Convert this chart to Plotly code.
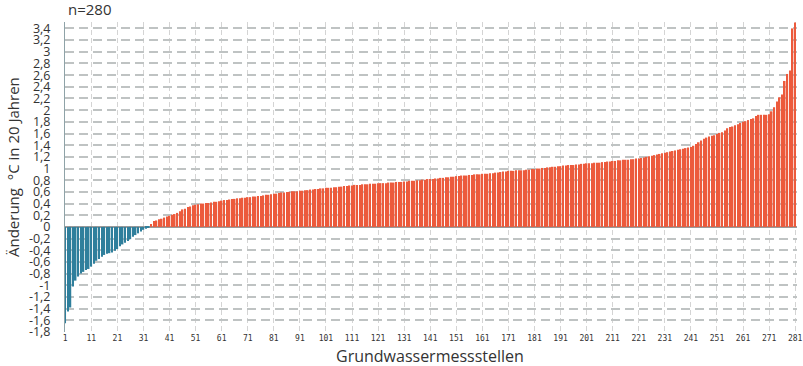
import plotly.graph_objects as go

# Sorted temperature change per groundwater monitoring station (°C in 20 years)
negative_values = [
    -1.65, -1.45, -1.38, -1.02, -0.92, -0.85, -0.80, -0.77, -0.74, -0.72,
    -0.68, -0.63, -0.58, -0.55, -0.51, -0.48, -0.46, -0.45, -0.44, -0.41,
    -0.38, -0.33, -0.30, -0.27, -0.24, -0.21, -0.17, -0.14, -0.11, -0.08,
    -0.05, -0.03, -0.01,
]
positive_values = [
    0.05, 0.10, 0.11, 0.13, 0.14, 0.16, 0.18, 0.19, 0.21, 0.22,
    0.24, 0.27, 0.30, 0.31, 0.34, 0.35, 0.37, 0.38, 0.39, 0.40,
    0.40, 0.41, 0.41, 0.42, 0.43, 0.43, 0.44, 0.45, 0.46, 0.46,
    0.47, 0.48, 0.48, 0.49, 0.49, 0.50, 0.50, 0.51, 0.51, 0.52,
    0.52, 0.53, 0.53, 0.54, 0.55, 0.55, 0.56, 0.57, 0.57, 0.58,
    0.59, 0.59, 0.60, 0.60, 0.61, 0.61, 0.61, 0.62, 0.62, 0.63,
    0.63, 0.64, 0.64, 0.65, 0.65, 0.66, 0.66, 0.67, 0.67, 0.67,
    0.68, 0.68, 0.69, 0.69, 0.70, 0.70, 0.71, 0.71, 0.72, 0.72,
    0.72, 0.73, 0.73, 0.73, 0.74, 0.74, 0.74, 0.75, 0.75, 0.75,
    0.75, 0.76, 0.76, 0.76, 0.77, 0.77, 0.77, 0.78, 0.78, 0.79,
    0.79, 0.79, 0.80, 0.80, 0.81, 0.81, 0.82, 0.82, 0.82, 0.83,
    0.83, 0.84, 0.84, 0.85, 0.85, 0.86, 0.86, 0.87, 0.87, 0.88,
    0.88, 0.88, 0.89, 0.89, 0.90, 0.90, 0.90, 0.91, 0.91, 0.91,
    0.92, 0.92, 0.93, 0.93, 0.94, 0.95, 0.95, 0.96, 0.96, 0.96,
    0.97, 0.97, 0.97, 0.97, 0.98, 0.98, 0.99, 0.99, 1.00, 1.00,
    1.01, 1.01, 1.02, 1.02, 1.03, 1.03, 1.04, 1.04, 1.05, 1.05,
    1.06, 1.06, 1.06, 1.07, 1.07, 1.08, 1.08, 1.09, 1.09, 1.09,
    1.10, 1.10, 1.10, 1.11, 1.11, 1.12, 1.12, 1.13, 1.13, 1.14,
    1.14, 1.15, 1.15, 1.15, 1.16, 1.16, 1.17, 1.17, 1.18, 1.19,
    1.20, 1.21, 1.22, 1.23, 1.24, 1.25, 1.26, 1.27, 1.28, 1.29,
    1.30, 1.31, 1.32, 1.33, 1.34, 1.35, 1.36, 1.37, 1.39, 1.42,
    1.45, 1.48, 1.51, 1.53, 1.55, 1.56, 1.57, 1.59, 1.61, 1.62,
    1.65, 1.69, 1.71, 1.72, 1.74, 1.76, 1.78, 1.80, 1.81, 1.83,
    1.85, 1.86, 1.90, 1.92, 1.92, 1.92, 1.92, 1.93, 1.98, 2.05,
    2.15, 2.22, 2.27, 2.50, 2.62, 2.68, 3.40, 3.50,
]

y_tick_values = [-1.8, -1.6, -1.4, -1.2, -1.0, -0.8, -0.6, -0.4, -0.2, 0.0,
                 0.2, 0.4, 0.6, 0.8, 1.0, 1.2, 1.4, 1.6, 1.8, 2.0,
                 2.2, 2.4, 2.6, 2.8, 3.0, 3.2, 3.4]
y_tick_labels = ["-1,8", "-1,6", "-1,4", "-1,2", "-1", "-0,8", "-0,6", "-0,4", "-0,2", "0",
                 "0,2", "0,4", "0,6", "0,8", "1", "1,2", "1,4", "1,6", "1,8", "2",
                 "2,2", "2,4", "2,6", "2,8", "3", "3,2", "3,4"]
x_tick_values = [1, 11, 21, 31, 41, 51, 61, 71, 81, 91, 101, 111, 121, 131, 141,
                 151, 161, 171, 181, 191, 201, 211, 221, 231, 241, 251, 261, 271, 281]

neg_x = list(range(1, len(negative_values) + 1))
pos_x = list(range(len(negative_values) + 1, len(negative_values) + len(positive_values) + 1))

W, H = 803, 366
ML, MR, MT, MB = 65, 6, 22, 34
plot_w = W - ML - MR
plot_h = H - MT - MB


def px_x(px):
    return (px - ML) / plot_w


def px_y(py):
    return (H - MB - py) / plot_h


fig = go.Figure()
fig.add_trace(go.Bar(x=neg_x, y=negative_values,
                     marker=dict(color="#2F7F9C", line=dict(width=0)),
                     showlegend=False))
fig.add_trace(go.Bar(x=pos_x, y=positive_values,
                     marker=dict(color="#EC5A3C", line=dict(width=0)),
                     showlegend=False))

fig.update_layout(
    width=W, height=H,
    margin=dict(l=ML, r=MR, t=MT, b=MB, autoexpand=False),
    plot_bgcolor="white", paper_bgcolor="white",
    bargap=0.42,
    font=dict(family="Open Sans, DejaVu Sans, sans-serif", color="#333333"),
    xaxis=dict(
        range=[0.9, 281.7],
        tickmode="array", tickvals=x_tick_values,
        ticktext=[str(v) for v in x_tick_values],
        tickfont=dict(family="DejaVu Sans Mono", size=8, color="#333333"),
        showgrid=True, gridcolor="#D4D4D4", griddash="5px,3px", gridwidth=1,
        showline=False, zeroline=False, ticks="", ticklen=0,
    ),
    yaxis=dict(
        range=[-1.8, 3.51],
        tickmode="array", tickvals=y_tick_values, ticktext=y_tick_labels,
        tickfont=dict(family="Open Sans, DejaVu Sans, sans-serif", size=12.5, color="#333333"),
        showgrid=True, gridcolor="#BFC3C3", griddash="9px,5px", gridwidth=1.5,
        showline=True, linecolor="#8FA3A8", linewidth=1,
        zeroline=True, zerolinecolor="#9A9A9A", zerolinewidth=1.5,
        ticks="", ticklabelstandoff=11,
    ),
    annotations=[
        dict(text="n=280", xref="paper", yref="paper", x=px_x(66), y=px_y(9),
             showarrow=False, font=dict(size=15, color="#333333"),
             xanchor="left", yanchor="middle"),
        dict(text="Änderung\u00a0\u00a0°C in 20 Jahren", xref="paper", yref="paper",
             x=px_x(13), y=px_y(167),
             showarrow=False, textangle=-90, font=dict(size=15, color="#333333"),
             xanchor="center", yanchor="middle"),
        dict(text="Grundwassermessstellen", xref="paper", yref="paper",
             x=px_x(430), y=px_y(356),
             showarrow=False, font=dict(size=16, color="#333333"),
             xanchor="center", yanchor="middle"),
    ],
)

fig.write_html(
    "out.html",
    config={"displayModeBar": False},
    post_script="document.body.style.margin='0';document.body.style.overflow='hidden';",
)
